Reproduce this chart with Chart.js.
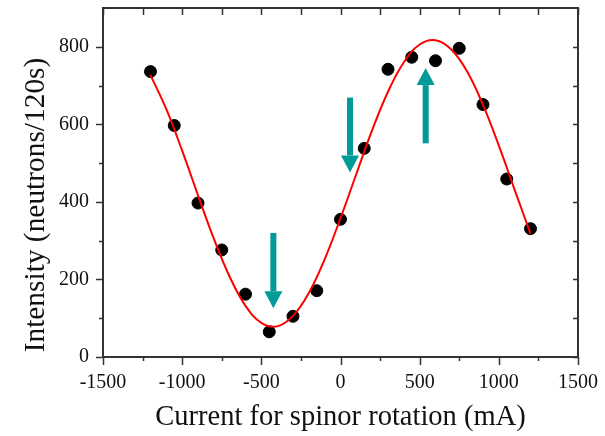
<!DOCTYPE html>
<html>
<head>
<meta charset="utf-8">
<script src="https://cdn.jsdelivr.net/npm/chart.js@4/dist/chart.umd.min.js"></script>
<style>
  html, body { margin: 0; padding: 0; background: #fff; }
  #wrap { width: 605px; height: 436px; }
</style>
</head>
<body>
<div id="wrap"><canvas id="spinorChart"></canvas></div>
<script>
// measured points
const currents = [-1200, -1050, -900, -750, -600, -450, -300, -150, 0, 150, 300, 450, 600, 750, 900, 1050, 1200];
const counts = [736, 597, 397, 276, 162, 65, 105, 171, 355, 538, 742, 773, 764, 796, 651, 459, 331];

// fitted curve
const fitX = [-1200, -1100, -1000, -900, -800, -700, -600, -500, -400, -300, -200, -100, 0, 100, 200, 300, 400, 500, 600, 700, 800, 900, 1000, 1100, 1200];
const fitY = [727, 639, 532, 417, 305, 207, 132, 88, 79, 106, 165, 252, 358, 472, 585, 684, 760, 806, 817, 793, 736, 650, 545, 431, 318];

// arrows: x, start y, end y (tip)
const arrowX = [-424, 60, 538];
const arrowFrom = [320, 669, 551];
const arrowTo = [126, 476, 745];

const xTicks = [-1500, -1000, -500, 0, 500, 1000, 1500];
const xMinor = [-1250, -750, -250, 250, 750, 1250];
const yTicks = [0, 200, 400, 600, 800];
const yMinor = [100, 300, 500, 700];

const yTitle = "Intensity (neutrons/120s)";
const serif = "'Liberation Serif', 'DejaVu Serif', serif";

const framePlugin = {
  id: "frame",
  afterDatasetsDraw(chart) {
    const { ctx, scales: { x, y } } = chart;
    ctx.save();
    // arrows
    ctx.fillStyle = "#009a98";
    arrowX.forEach((v, i) => {
      const px = x.getPixelForValue(v);
      const y0 = y.getPixelForValue(arrowFrom[i]);
      const y1 = y.getPixelForValue(arrowTo[i]);
      const dir = y1 > y0 ? 1 : -1;
      const head = 17;
      ctx.fillRect(px - 3, Math.min(y0, y1 - dir * head), 6, Math.abs(y1 - dir * head - y0));
      ctx.beginPath();
      ctx.moveTo(px - 9, y1 - dir * head);
      ctx.lineTo(px + 9, y1 - dir * head);
      ctx.lineTo(px, y1);
      ctx.closePath();
      ctx.fill();
    });
    ctx.restore();
  },
  afterDraw(chart) {
    const { ctx, chartArea: a, scales: { x, y } } = chart;
    ctx.save();
    ctx.strokeStyle = "#333";
    ctx.lineWidth = 2;
    ctx.strokeRect(a.left, a.top, a.right - a.left, a.bottom - a.top);
    ctx.lineWidth = 1.5;
    ctx.beginPath();
    xTicks.concat(xMinor).forEach(v => {
      const px = Math.round(x.getPixelForValue(v)) + 0.5;
      const len = xTicks.includes(v) ? 8 : 4;
      ctx.moveTo(px, a.bottom); ctx.lineTo(px, a.bottom + len);
      ctx.moveTo(px, a.top); ctx.lineTo(px, a.top + 7);
    });
    yTicks.concat(yMinor).forEach(v => {
      const py = Math.round(y.getPixelForValue(v)) + 0.5;
      const len = yTicks.includes(v) ? 7 : 4;
      ctx.moveTo(a.left, py); ctx.lineTo(a.left - len, py);
      ctx.moveTo(a.right, py); ctx.lineTo(a.right - 5, py);
    });
    ctx.stroke();

    // y title, sits a bit below the axis middle in the original
    ctx.translate(36, 205);
    ctx.rotate(-Math.PI / 2);
    ctx.fillStyle = "#111";
    ctx.font = "29.4px " + serif;
    ctx.textAlign = "center";
    ctx.textBaseline = "middle";
    ctx.fillText(yTitle, 0, 0);
    ctx.restore();
  }
};

new Chart(document.getElementById("spinorChart"), {
  type: "scatter",
  data: {
    datasets: [{
      data: currents.map((c, i) => ({ x: c, y: counts[i] })),
      backgroundColor: "#000",
      borderColor: "#000",
      pointRadius: 6,
      pointHoverRadius: 6,
      order: 2
    }, {
      type: "line",
      data: fitX.map((c, i) => ({ x: c, y: fitY[i] })),
      borderColor: "#ff0000",
      borderWidth: 2,
      pointRadius: 0,
      tension: 0.4,
      fill: false,
      order: 1
    }]
  },
  options: {
    responsive: true,
    maintainAspectRatio: false,
    animation: false,
    layout: { padding: { left: 0, top: 8, right: 27, bottom: 0 } },
    plugins: { legend: { display: false }, tooltip: { enabled: false } },
    scales: {
      x: {
        type: "linear",
        min: -1500,
        max: 1500,
        afterBuildTicks: s => { s.ticks = xTicks.map(v => ({ value: v })); },
        afterFit: s => { s.height = 79; s.paddingLeft = 0; s.paddingRight = 0; },
        grid: { display: false },
        border: { display: false },
        ticks: {
          color: "#111",
          padding: 6,
          font: { family: serif, size: 20 },
          maxRotation: 0,
          callback: v => String(v)
        },
        title: {
          display: true,
          text: "Current for spinor rotation (mA)",
          color: "#111",
          font: { family: serif, size: 28.5 },
          padding: { top: 0, bottom: 1 }
        }
      },
      y: {
        min: 0,
        max: 900,
        afterBuildTicks: s => { s.ticks = yTicks.map(v => ({ value: v })); },
        afterFit: s => { s.width = 103; s.paddingTop = 0; s.paddingBottom = 0; },
        grid: { display: false },
        border: { display: false },
        ticks: {
          color: "#111",
          padding: 6,
          font: { family: serif, size: 20 },
          callback: v => String(v)
        }
      }
    }
  },
  plugins: [framePlugin]
});
</script>
</body>
</html>
